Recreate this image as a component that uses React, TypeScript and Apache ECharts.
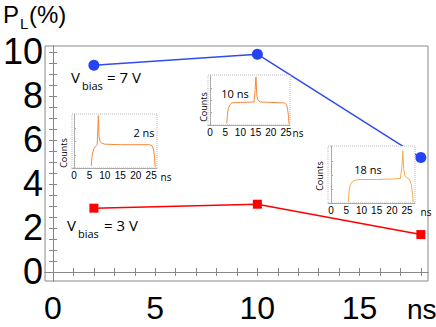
import React, { useEffect, useRef } from "react";
import * as echarts from "echarts";

// Main data
const delays = [2, 10, 18];
const pl7V = [9.4, 9.9, 5.2];
const pl3V = [2.9, 3.08, 1.7];
const xTickLabels = [0, 5, 10, 15];
const yTickLabels = [0, 2, 4, 6, 8, 10];
const xTicks = [0, 1, 2, 3, 4, 5, 6, 7, 8, 9, 10, 11, 12, 13, 14, 15, 16, 17, 18];
const yTicks = [0, 0.5, 1, 1.5, 2, 2.5, 3, 3.5, 4, 4.5, 5, 5.5, 6, 6.5, 7, 7.5, 8, 8.5, 9, 9.5, 10];
const insetTickLabels = [0, 5, 10, 15, 20, 25];

// Inset curves (time in ns, normalized counts)
const inset2nsT = [5.6, 5.8, 6.1, 6.5, 7.0, 7.5, 7.7, 7.9, 8.1, 8.4, 9.0, 10, 15, 20, 24.5, 25.3, 25.8, 26.1, 26.3];
const inset2nsC = [0.04, 0.2, 0.3, 0.37, 0.41, 0.44, 0.7, 0.99, 0.6, 0.5, 0.47, 0.45, 0.44, 0.44, 0.44, 0.42, 0.35, 0.2, 0.02];
const inset10nsT = [5.5, 5.7, 6.0, 6.5, 7.2, 8.5, 10, 14.5, 14.8, 15.1, 15.4, 15.8, 16.5, 20, 24.5, 25.1, 25.5, 25.8, 26.0];
const inset10nsC = [0.03, 0.2, 0.33, 0.41, 0.45, 0.46, 0.46, 0.47, 0.7, 0.98, 0.6, 0.5, 0.47, 0.46, 0.45, 0.42, 0.33, 0.18, 0.01];
const inset18nsT = [5.7, 5.9, 6.3, 7.0, 8.0, 10, 15, 20, 22.8, 23.3, 23.6, 23.9, 24.3, 25.0, 25.8, 26.4, 26.8, 27.0];
const inset18nsC = [0.02, 0.2, 0.32, 0.38, 0.41, 0.42, 0.42, 0.43, 0.44, 0.65, 0.93, 0.6, 0.48, 0.45, 0.42, 0.33, 0.15, 0.02];

const zip = (a: number[], b: number[]) => a.map((v, i) => [v, b[i]]);

const GRAY = "#888";
const FONT = "Liberation Sans";
const TFONT = "Open Sans";

const insetX = (grid: number, min: number, max: number) => ({
  type: "value",
  gridIndex: grid,
  min,
  max,
  z: 11,
  axisLine: { show: true, lineStyle: { color: "#aaa", width: 1 } },
  axisTick: { show: false },
  splitLine: { show: false },
  axisLabel: {
    customValues: insetTickLabels,
    fontSize: 10,
    color: "#000",
    margin: 2,
    fontFamily: FONT,
  },
});

const insetY = (grid: number) => ({
  type: "value",
  gridIndex: grid,
  min: 0,
  max: 1.02,
  z: 11,
  axisLine: { show: true, lineStyle: { color: "#aaa", width: 1 } },
  axisTick: { show: true, inside: true, length: 2, customValues: [0.25, 0.5, 0.75], lineStyle: { color: "#aaa" } },
  axisLabel: { show: false },
  splitLine: { show: false },
});

const insetGrid = (left: number, top: number, width: number, height: number) => ({
  left,
  top,
  width,
  height,
  show: true,
  z: 10,
  backgroundColor: "#fff",
  borderColor: "#bbb",
  borderWidth: 1,
  borderType: "dotted",
});

const txt = (x: number, y: number, text: string, fontSize: number, extra: any = {}) => ({
  type: "text",
  x,
  y,
  z: 30,
  style: {
    text,
    fontSize,
    fontFamily: TFONT,
    fill: "#000",
    textVerticalAlign: "middle",
    ...extra,
  },
});

const counts = (x: number, y: number) => ({
  type: "text",
  x,
  y,
  rotation: Math.PI / 2,
  z: 30,
  style: { text: "Counts", fontSize: 9, fontFamily: TFONT, fill: "#000", textAlign: "center", textVerticalAlign: "middle" },
});

export default function App() {
  const ref = useRef<HTMLDivElement>(null);
  useEffect(() => {
    if (!ref.current) return;
    const chart = echarts.init(ref.current, undefined, { renderer: "svg" });
    const mainAxisCommon = {
      type: "value",
      gridIndex: 0,
      splitLine: { show: false },
      axisLine: { show: true, lineStyle: { color: GRAY, width: 1 } },
    };
    chart.setOption({
      animation: false,
      backgroundColor: "#fff",
      grid: [
        { left: 45, top: 46, width: 383, height: 235, show: true, borderColor: GRAY, borderWidth: 1 },
        insetGrid(72, 114, 85, 54),
        insetGrid(208, 75, 82, 50),
        insetGrid(328, 146, 87, 57),
      ],
      xAxis: [
        {
          ...mainAxisCommon,
          position: "bottom",
          min: -0.39,
          max: 18.35,
          axisTick: { show: true, inside: true, length: 4, customValues: xTicks, lineStyle: { color: GRAY } },
          axisLabel: { customValues: xTickLabels, fontSize: 32, color: "#000", margin: 11, fontFamily: FONT },
        },
        {
          ...mainAxisCommon,
          position: "top",
          min: -0.39,
          max: 18.35,
          axisTick: { show: true, inside: true, length: 4, customValues: xTicks, lineStyle: { color: GRAY } },
          axisLabel: { show: false },
        },
        insetX(1, -0.65, 26.9),
        insetX(2, -0.66, 26.3),
        insetX(3, -1, 27.6),
      ],
      yAxis: [
        {
          ...mainAxisCommon,
          position: "left",
          min: -0.41,
          max: 10.27,
          axisTick: { show: true, inside: true, length: 4, customValues: yTicks, lineStyle: { color: GRAY } },
          axisLabel: { customValues: yTickLabels, fontSize: 36, color: "#000", margin: 2, fontFamily: FONT },
        },
        {
          ...mainAxisCommon,
          position: "right",
          min: -0.41,
          max: 10.27,
          axisTick: { show: true, inside: true, length: 4, customValues: yTicks, lineStyle: { color: GRAY } },
          axisLabel: { show: false },
        },
        insetY(1),
        insetY(2),
        insetY(3),
      ],
      series: [
        {
          type: "line",
          xAxisIndex: 0,
          yAxisIndex: 0,
          data: zip(delays, pl7V),
          symbol: "circle",
          symbolSize: 11,
          itemStyle: { color: "#2443f2" },
          lineStyle: { color: "#2f4cf0", width: 1.5 },
          z: 2,
        },
        {
          type: "line",
          xAxisIndex: 0,
          yAxisIndex: 0,
          data: zip(delays, pl3V),
          symbol: "rect",
          symbolSize: 9,
          itemStyle: { color: "#ff0000" },
          lineStyle: { color: "#ff0000", width: 1.5 },
          z: 2,
        },
        {
          type: "line",
          xAxisIndex: 2,
          yAxisIndex: 2,
          data: zip(inset2nsT, inset2nsC),
          showSymbol: false,
          lineStyle: { color: "#f7883a", width: 1 },
          z: 12,
        },
        {
          type: "line",
          xAxisIndex: 3,
          yAxisIndex: 3,
          data: zip(inset10nsT, inset10nsC),
          showSymbol: false,
          lineStyle: { color: "#f7883a", width: 1 },
          z: 12,
        },
        {
          type: "line",
          xAxisIndex: 4,
          yAxisIndex: 4,
          data: zip(inset18nsT, inset18nsC),
          showSymbol: false,
          lineStyle: { color: "#f2ad4e", width: 1 },
          z: 12,
        },
      ],
      graphic: [
        // Y title P_L(%)
        { type: "text", x: 3, y: 2, z: 30, style: { text: "P", fontSize: 24, fontFamily: FONT, fill: "#000" } },
        { type: "text", x: 20, y: 16, z: 30, style: { text: "L", fontSize: 15, fontFamily: FONT, fill: "#000" } },
        { type: "text", x: 29, y: 2, z: 30, style: { text: "(%)", fontSize: 24, fontFamily: FONT, fill: "#000" } },
        // x unit
        { type: "text", x: 407, y: 295, z: 30, style: { text: "ns", fontSize: 28, fontFamily: FONT, fill: "#000" } },
        // Vbias = 7 V
        txt(71, 77, "V", 15),
        txt(82, 85, "bias", 11),
        txt(107, 77, "= 7 V", 15),
        // Vbias = 3 V
        txt(67, 225, "V", 15),
        txt(78, 233, "bias", 11),
        txt(104, 225, "= 3 V", 15),
        // inset texts
        txt(144, 132, "2 ns", 11, { textAlign: "center" }),
        txt(235, 93, "10 ns", 11, { textAlign: "center" }),
        txt(368, 169, "18 ns", 11, { textAlign: "center" }),
        txt(166, 177, "ns", 10, { textAlign: "center" }),
        txt(298, 133, "ns", 10, { textAlign: "center" }),
        txt(426, 212, "ns", 10, { textAlign: "center" }),
        counts(63, 153),
        counts(203, 107),
        counts(319, 176),
      ],
    });
    return () => chart.dispose();
  }, []);
  return <div ref={ref} style={{ width: 436, height: 327, position: "absolute", left: 0, top: 0 }} />;
}
